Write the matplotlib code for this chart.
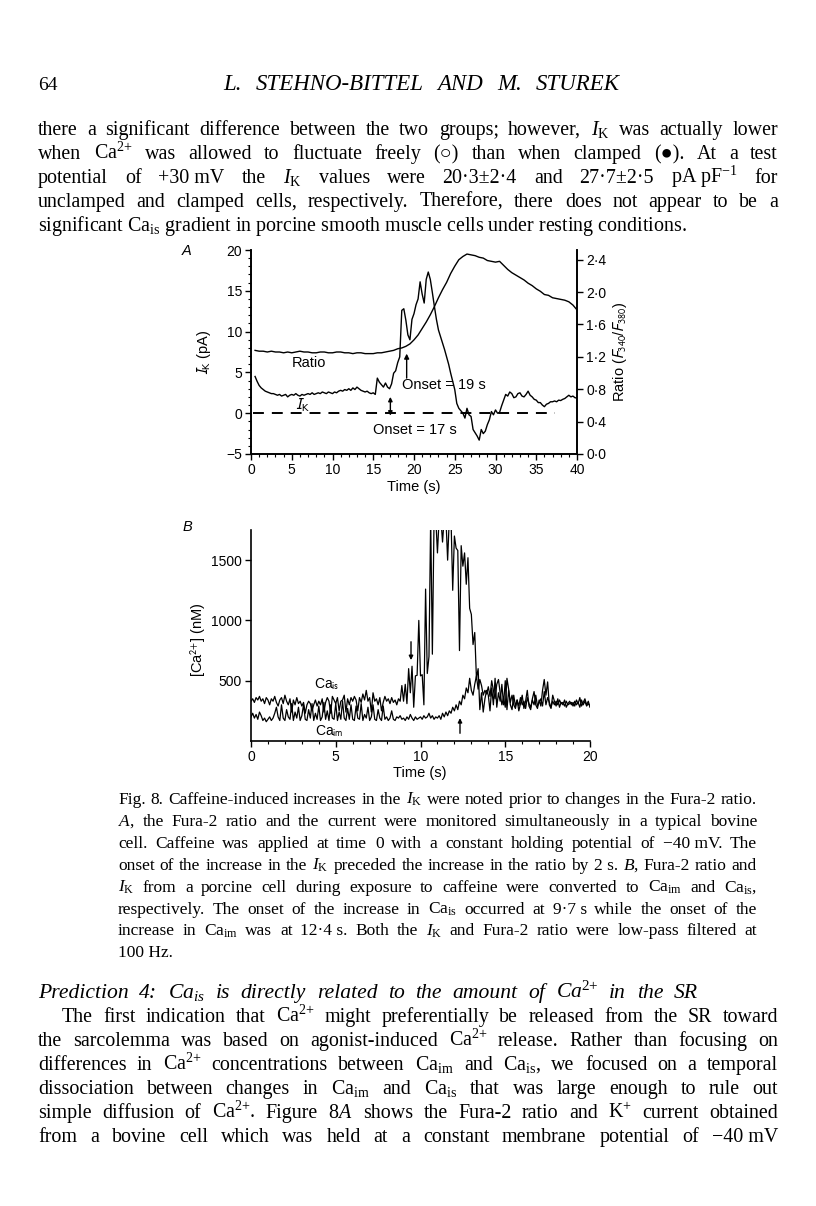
import numpy as np
import matplotlib
matplotlib.use('Agg')
import matplotlib.pyplot as plt
from matplotlib.transforms import IdentityTransform
from matplotlib.ticker import MultipleLocator, FixedLocator, FixedFormatter

# ---------------- data ----------------
# Panel A: bovine cell, I_K (pA) every 0.25 s starting at 0.5 s
ik_t0, ik_dt = 0.5, 0.25
ik_pa = [
    4.5, 3.9,                  # 0.5
    3.4, 3.1, 2.9, 2.7,        # 1
    2.6, 2.5, 2.4, 2.4,        # 2
    2.3, 2.2, 2.3, 2.1,        # 3
    2.2, 2.3, 2.0, 2.2,        # 4
    2.3, 2.2, 2.4, 2.2,        # 5
    2.1, 2.3, 2.2, 2.3,        # 6
    2.4, 2.3, 2.5, 2.3,        # 7
    2.4, 2.5, 2.4, 2.6,        # 8
    2.5, 2.4, 2.6, 2.5,        # 9
    2.4, 2.6, 2.5, 2.7,        # 10
    2.8, 2.7, 2.9, 2.8,        # 11
    3.0, 2.8, 3.1, 2.9,        # 12
    3.2, 3.0, 2.8, 2.7,        # 13
    2.6, 2.7, 2.5, 2.4,        # 14
    2.5, 2.3, 4.3, 3.8,        # 15
    3.5, 3.2, 3.7, 3.2,        # 16
    3.0, 3.6, 4.9, 5.2,        # 17
    6.2, 6.9, 12.6, 12.8,      # 18
    11.4, 9.6, 9.0, 11.5,      # 19
    12.2, 13.3, 14.0, 16.1,    # 20
    14.6, 13.5, 16.4, 17.3,    # 21
    16.4, 14.8, 13.1, 11.5,    # 22
    10.2, 9.4, 8.6, 7.8,       # 23
    6.9, 6.0, 4.9, 3.9,        # 24
    2.9, 1.2, 0.6, 0.3,        # 25
    0.0, -0.6, 0.6, -0.2,      # 26
    -0.4, -2.0, -2.4, -2.8,    # 27
    -3.3, -2.0, -2.5, -2.2,    # 28
    -1.4, -0.8, 0.2, -0.2,     # 29
    0.4, 0.0, 0.1, 0.9,        # 30
    1.6, 2.3, 2.1, 2.6,        # 31
    2.4, 1.9, 2.0, 2.4,        # 32
    2.5, 2.1, 2.0, 2.3,        # 33
    2.7, 2.2, 2.0, 1.7,        # 34
    1.6, 1.3, 1.3, 1.0,        # 35
    0.8, 1.1, 1.2, 1.4,        # 36
    1.4, 1.5, 1.4, 1.6,        # 37
    1.55, 1.7, 1.8, 2.0,       # 38
    2.2, 2.0, 2.1, 1.9,        # 39
    1.85,                      # 40
]

# Fura-2 ratio (F340/F380) every 0.5 s starting at 0.5 s
ratio_t0, ratio_dt = 0.5, 0.5
ratio_vals = [
    1.28, 1.27, 1.27, 1.26, 1.27, 1.26, 1.26, 1.25, 1.26,          # 0.5-4.5
    1.25, 1.26, 1.27, 1.26, 1.26, 1.25, 1.25, 1.26, 1.26, 1.25,    # 5-9.5
    1.25, 1.26, 1.26, 1.25, 1.25, 1.24, 1.25, 1.25, 1.24, 1.24,    # 10-14.5
    1.24, 1.25, 1.25, 1.26, 1.27, 1.28, 1.30, 1.31, 1.33, 1.36,    # 15-19.5
    1.41, 1.47, 1.55, 1.63, 1.72, 1.82, 1.93, 2.03, 2.12, 2.23,    # 20-24.5
    2.32, 2.40, 2.44, 2.47, 2.46, 2.45, 2.43, 2.42, 2.39, 2.38,    # 25-29.5
    2.37, 2.38, 2.33, 2.28, 2.24, 2.21, 2.18, 2.15, 2.11, 2.08,    # 30-34.5
    2.04, 2.01, 1.97, 1.96, 1.93, 1.92, 1.91, 1.90, 1.88, 1.84,    # 35-39.5
    1.78,                                                          # 40
]
ratio_ticks = [0.0, 0.4, 0.8, 1.2, 1.6, 2.0, 2.4]
ratio_ticklabels = ['0·0', '0·4', '0·8', '1·2', '1·6', '2·0', '2·4']
zero_span = [0.2, 37.3]      # dashed I_K = 0 line
onset_ik = 17.1              # s
onset_ratio = 19.1           # s

# Panel B: porcine cell, [Ca2+] (nM) every 0.1 s from 0 s
ca_t0, ca_dt = 0.0, 0.1
ca_is = [
    330, 350, 320, 360, 340, 370, 330, 350, 310, 360,      # 0
    340, 300, 350, 330, 370, 320, 290, 340, 360, 310,      # 1
    380, 330, 300, 350, 240, 340, 300, 360, 310, 330,      # 2
    290, 320, 230, 300, 330, 310, 250, 300, 340, 290,      # 3
    330, 300, 350, 240, 320, 360, 330, 230, 370, 340,      # 4
    310, 360, 250, 330, 340, 380, 240, 350, 300, 360,      # 5
    330, 370, 340, 250, 360, 320, 390, 340, 420, 330,      # 6
    360, 240, 400, 330, 350, 300, 360, 250, 320, 370,      # 7
    330, 350, 310, 360, 320, 340, 300, 350, 330, 460,      # 8
    330, 470, 310, 600, 400, 620, 280, 540, 545, 1000,     # 9
    540, 550, 300, 1260, 560, 700, 1850, 720, 1850, 1850,  # 10
    1560, 1850, 1850, 1650, 1850, 1850, 1500, 1850, 1850, 1250,  # 11
    1700, 1600, 1580, 750, 1620, 1450, 1560, 1300, 1520, 1100,   # 12
    1050, 800, 900, 520, 600, 260, 400, 240, 350, 420,     # 13
    380, 250, 440, 300, 520, 280, 400, 330, 470, 300,      # 14
    500, 260, 420, 320, 380, 300, 270, 340, 290, 360,      # 15
    300, 330, 270, 360, 310, 280, 340, 300, 380, 290,      # 16
    320, 350, 290, 410, 300, 360, 320, 280, 330, 300,      # 17
    330, 300, 340, 310, 320, 290, 330, 300, 310, 320,      # 18
    290, 330, 300, 320, 280, 340, 300, 330, 290, 310,      # 19
    290,                                                   # 20
]
ca_im = [
    200, 230, 190, 220, 180, 240, 210, 170, 190, 160,      # 0
    180, 200, 170, 190, 230, 280, 200, 170, 300, 190,      # 1
    170, 260, 200, 180, 310, 170, 240, 190, 280, 170,      # 2
    210, 300, 180, 170, 260, 190, 310, 170, 230, 180,      # 3
    290, 170, 200, 320, 180, 250, 170, 300, 190, 180,      # 4
    310, 170, 240, 180, 330, 190, 170, 270, 180, 300,      # 5
    180, 170, 290, 190, 180, 310, 170, 220, 190, 280,      # 6
    170, 200, 300, 180, 170, 260, 190, 170, 290, 180,      # 7
    200, 170, 190, 250, 180, 170, 200, 190, 210, 180,      # 8
    190, 170, 200, 180, 220, 190, 170, 200, 180, 190,      # 9
    200, 180, 210, 190, 200, 230, 190, 210, 180, 200,      # 10
    190, 210, 180, 230, 200, 240, 210, 250, 230, 280,      # 11
    250, 300, 260, 330, 300, 380, 350, 440, 400, 520,      # 12
    420, 380, 470, 540, 430, 510, 460, 380, 420, 390,      # 13
    450, 370, 500, 420, 350, 470, 510, 400, 300, 360,      # 14
    280, 520, 430, 300, 260, 380, 290, 340, 250, 310,      # 15
    380, 270, 330, 420, 290, 260, 350, 410, 300, 270,      # 16
    340, 290, 420, 510, 380, 490, 300, 270, 380, 330,      # 17
    290, 350, 280, 320, 300, 340, 280, 310, 330, 300,      # 18
    320, 290, 340, 310, 360, 290, 320, 350, 300, 330,      # 19
    280,                                                   # 20
]
ca_ticks = [500, 1000, 1500]
onset_is = (9.44, 823, 671)    # time, arrow tail, arrow head (nM)
onset_im = (12.33, 64, 190)

# page text ('~' = fixed space inside a word group)
header_words = "L. STEHNO-BITTEL AND M. STUREK"
body_lines = [
    r"there a significant difference between the two groups; however, $I_{\mathrm{K}}$ was actually lower",
    r"when Ca$^{2{+}}$ was allowed to fluctuate freely (○) than when clamped (●). At a test",
    r"potential of +30~mV the $I_{\mathrm{K}}$ values were 20·3±2·4 and 27·7±2·5 pA~pF$^{-1}$ for",
    r"unclamped and clamped cells, respectively. Therefore, there does not appear to be a",
    r"significant Ca$_{\mathrm{is}}$ gradient in porcine smooth muscle cells under resting conditions.",
]
caption_lines = [
    r"Fig. 8. Caffeine-induced increases in the $I_{\mathrm{K}}$ were noted prior to changes in the Fura-2 ratio.",
    r"$\mathit{A}$, the Fura-2 ratio and the current were monitored simultaneously in a typical bovine",
    r"cell. Caffeine was applied at time 0 with a constant holding potential of −40~mV. The",
    r"onset of the increase in the $I_{\mathrm{K}}$ preceded the increase in the ratio by 2~s. $\mathit{B}$, Fura-2 ratio and",
    r"$I_{\mathrm{K}}$ from a porcine cell during exposure to caffeine were converted to Ca$_{\mathrm{im}}$ and Ca$_{\mathrm{is}}$,",
    r"respectively. The onset of the increase in Ca$_{\mathrm{is}}$ occurred at 9·7~s while the onset of the",
    r"increase in Ca$_{\mathrm{im}}$ was at 12·4~s. Both the $I_{\mathrm{K}}$ and Fura-2 ratio were low-pass filtered at",
    r"100 Hz.",
]
heading = r"Prediction 4: Ca$_{is}$ is directly related to the amount of Ca$^{2{+}}$ in the SR"
para_lines = [
    r"The first indication that Ca$^{2{+}}$ might preferentially be released from the SR toward",
    r"the sarcolemma was based on agonist-induced Ca$^{2{+}}$ release. Rather than focusing on",
    r"differences in Ca$^{2{+}}$ concentrations between Ca$_{\mathrm{im}}$ and Ca$_{\mathrm{is}}$, we focused on a temporal",
    r"dissociation between changes in Ca$_{\mathrm{im}}$ and Ca$_{\mathrm{is}}$ that was large enough to rule out",
    r"simple diffusion of Ca$^{2{+}}$. Figure 8$\mathit{A}$ shows the Fura-2 ratio and K$^{{+}}$ current obtained",
    r"from a bovine cell which was held at a constant membrane potential of −40~mV",
]

# ---------------- style ----------------
W, H = 816, 1206
plt.rcParams['font.family'] = ['Liberation Sans', 'DejaVu Sans']
plt.rcParams['mathtext.fontset'] = 'custom'
plt.rcParams['mathtext.rm'] = 'Liberation Serif'
plt.rcParams['mathtext.it'] = 'Liberation Serif:italic'
plt.rcParams['mathtext.bf'] = 'Liberation Serif:bold'
SERIF = ['Liberation Serif', 'DejaVu Sans']
SANS_MATH = 'stixsans'
TICK_FS = 10
LBL_FS = 10.5
BODY_FS = 14.4
CAP_FS = 12.5

fig = plt.figure(figsize=(W / 100, H / 100), dpi=100)
fig.patch.set_facecolor('white')
PIX = IdentityTransform()


def px_rect(l, t, r, b):
    return [l / W, 1 - b / H, (r - l) / W, (b - t) / H]


def draw_line(s, x0, y, x1=None, **kw):
    """one line of page text; justified between x0 and x1 when x1 is given"""
    if x1 is None:
        fig.text(x0, H - y, s.replace('~', ' '), transform=PIX, va='baseline', ha='left', **kw)
        return
    r = fig.canvas.get_renderer()
    words = [w.replace('~', ' ') for w in s.split(' ')]
    arts = [fig.text(0, H - y, w, transform=PIX, va='baseline', ha='left', **kw) for w in words]
    widths = [a.get_window_extent(r).width for a in arts]
    gap = (x1 - x0 - sum(widths)) / max(1, len(words) - 1)
    x = x0
    for a, w in zip(arts, widths):
        a.set_x(x)
        x += w + gap


def style_axis(ax):
    ax.tick_params(which='major', direction='out', length=4.5, width=1.0, labelsize=TICK_FS, pad=2)
    ax.tick_params(which='minor', direction='out', length=2.5, width=0.8)
    for sp in ax.spines.values():
        sp.set_linewidth(1.2)
    ax.spines['top'].set_visible(False)


# ---------------- page header + top text ----------------
fig.text(38, H - 90, '64', transform=PIX, family=SERIF, fontsize=14, va='baseline')
draw_line(header_words, 223, 90, 620, family=SERIF, fontsize=16.5, style='italic')

body_kw = dict(family=SERIF, fontsize=BODY_FS)
for i, line in enumerate(body_lines):
    y = 135 + i * 24
    if i < len(body_lines) - 1:
        draw_line(line, 38, y, 778, **body_kw)
    else:
        draw_line(line, 38, y, **body_kw)

# ---------------- panel A ----------------
ik_t = ik_t0 + ik_dt * np.arange(len(ik_pa))
ratio_t = ratio_t0 + ratio_dt * np.arange(len(ratio_vals))

axA = fig.add_axes(px_rect(251, 250, 577, 454))
axA.plot(ik_t, ik_pa, color='black', lw=1.0)
axA.plot(zero_span, [0, 0], color='black', lw=1.4, dashes=(5.6, 4.1))
axA.set_xlim(0, 40)
axA.set_ylim(-5, 20)
axA.xaxis.set_major_locator(MultipleLocator(5))
axA.xaxis.set_minor_locator(MultipleLocator(1))
axA.yaxis.set_major_locator(MultipleLocator(5))
axA.yaxis.set_minor_locator(MultipleLocator(1))
style_axis(axA)

axR = axA.twinx()
axR.plot(ratio_t, ratio_vals, color='black', lw=1.0)
axR.set_ylim(0, 2.52)
axR.yaxis.set_major_locator(FixedLocator(ratio_ticks))
axR.yaxis.set_major_formatter(FixedFormatter(ratio_ticklabels))
style_axis(axR)

axA.text(7.05, 6.1, 'Ratio', ha='center', va='center', fontsize=10.5)
axA.text(6.3, 1.0, r'$I_{\mathrm{K}}$', ha='center', va='center', fontsize=11,
         math_fontfamily=SANS_MATH)
axA.text(18.5, 3.4, 'Onset = 19 s', ha='left', va='center', fontsize=10.5)
axA.text(20.1, -2.0, 'Onset = 17 s', ha='center', va='center', fontsize=10.5)
axA.annotate('', xy=(onset_ratio, 7.3), xytext=(onset_ratio, 4.3),
             arrowprops=dict(arrowstyle='-|>', color='black', lw=1.0, mutation_scale=7,
                             shrinkA=0, shrinkB=0))
axA.annotate('', xy=(onset_ik, 2.0), xytext=(onset_ik, -0.3),
             arrowprops=dict(arrowstyle='<|-|>', color='black', lw=1.0, mutation_scale=6,
                             shrinkA=0, shrinkB=0))

fig.text(187, H - 251, 'A', transform=PIX, fontsize=10.5, style='italic', ha='center', va='center')
fig.text(204, H - 352, r'$I_{\mathrm{K}}$ (pA)', transform=PIX, fontsize=LBL_FS, rotation=90,
         ha='center', va='center', math_fontfamily=SANS_MATH)
fig.text(620, H - 352, r'Ratio ($F_{340}$/$F_{380}$)', transform=PIX, fontsize=LBL_FS, rotation=90,
         ha='center', va='center', math_fontfamily=SANS_MATH)
fig.text(414, H - 487, 'Time (s)', transform=PIX, fontsize=LBL_FS, ha='center', va='center')

# ---------------- panel B ----------------
ca_t = ca_t0 + ca_dt * np.arange(len(ca_is))

axB = fig.add_axes(px_rect(251, 530, 590, 741))
axB.plot(ca_t, ca_is, color='black', lw=0.9)
axB.plot(ca_t, ca_im, color='black', lw=0.9)
axB.set_xlim(0, 20)
axB.set_ylim(0, 1750)
axB.xaxis.set_major_locator(MultipleLocator(5))
axB.xaxis.set_minor_locator(MultipleLocator(1))
axB.yaxis.set_major_locator(FixedLocator(ca_ticks))
style_axis(axB)
axB.spines['right'].set_visible(False)

axB.text(4.45, 470, r'Ca$_{\mathrm{is}}$', ha='center', va='center', fontsize=10,
         math_fontfamily=SANS_MATH)
axB.text(4.6, 85, r'Ca$_{\mathrm{im}}$', ha='center', va='center', fontsize=10,
         math_fontfamily=SANS_MATH)
for t_on, tail, head in (onset_is, onset_im):
    axB.annotate('', xy=(t_on, head), xytext=(t_on, tail),
                 arrowprops=dict(arrowstyle='-|>', color='black', lw=1.0, mutation_scale=6,
                                 shrinkA=0, shrinkB=0))

fig.text(187, H - 527, 'B', transform=PIX, fontsize=10.5, style='italic', ha='center', va='center')
fig.text(198, H - 640, r'[Ca$^{2{+}}$] (nM)', transform=PIX, fontsize=LBL_FS, rotation=90,
         ha='center', va='center', math_fontfamily=SANS_MATH)
fig.text(420, H - 773, 'Time (s)', transform=PIX, fontsize=LBL_FS, ha='center', va='center')

# ---------------- caption ----------------
cap_kw = dict(family=SERIF, fontsize=CAP_FS)
for i, line in enumerate(caption_lines):
    y = 804 + i * 21.9
    if i < len(caption_lines) - 1:
        draw_line(line, 118, y, 757, **cap_kw)
    else:
        draw_line(line, 118, y, **cap_kw)

# ---------------- heading + paragraph ----------------
draw_line(heading, 38, 998, 698, family=SERIF, fontsize=15.6, style='italic')
for i, line in enumerate(para_lines):
    y = 1022 + i * 24
    draw_line(line, 62 if i == 0 else 38, y, 778, **body_kw)

fig.savefig('out.png', dpi=100, facecolor='white')
